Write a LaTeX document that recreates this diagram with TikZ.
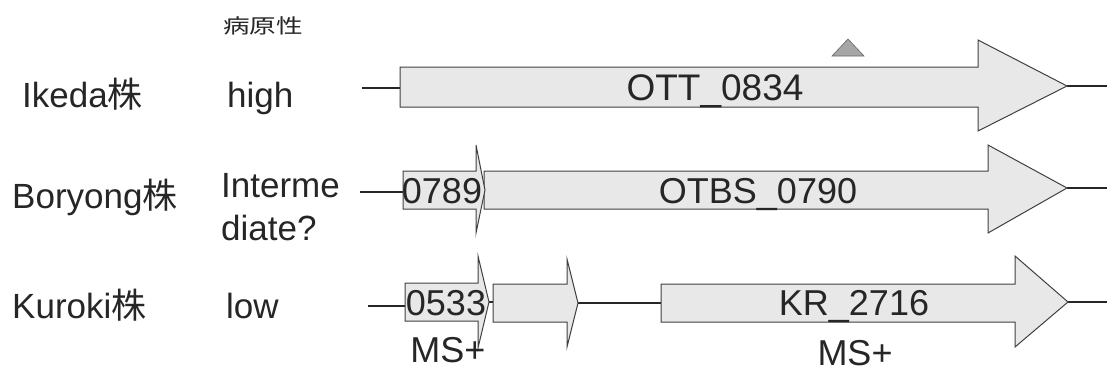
\documentclass[tikz,border=0pt]{standalone}
\usepackage{fontspec}
\setmainfont{Liberation Sans}
\newfontfamily\cjk{Noto Sans CJK JP}
\begin{document}
\begin{tikzpicture}[x=1pt,y=-1pt,
  gene/.style={draw=black!75,fill=black!9,line width=1pt,line join=miter},
  dna/.style={draw=black!85,line width=2.8pt},
  lbl/.style={inner sep=0pt,anchor=base,font=\fontsize{36}{40}\selectfont,text=black!85},
  lft/.style={inner sep=0pt,anchor=base west,font=\fontsize{35}{40}\selectfont,text=black!85}]
\useasboundingbox (0,0) rectangle (1107,372);
% row 1: Ikeda
\coordinate (r1a) at (362,88);
\coordinate (g1s) at (400,88);
\coordinate (g1e) at (1067,86);
\coordinate (r1b) at (1107,86);
\draw[dna] (r1a) -- (g1s);
\draw[dna] (g1e) -- (r1b);
\draw[gene] (400,67) -- (978,67) -- (978,40) -- (g1e) -- (978,131) -- (978,107) -- (400,107) -- cycle;
\draw[draw=black!60,fill=black!35,line width=0.6pt] (832,56) -- (848,39) -- (864,56) -- cycle;
\node[lbl,font=\fontsize{37}{40}\selectfont] (n1) at (715,100) {OTT\_0834};
% row 2: Boryong
\coordinate (r2a) at (360,192);
\coordinate (g2s) at (403,192);
\coordinate (g2e) at (1067,188);
\coordinate (r2b) at (1107,188);
\draw[dna] (r2a) -- (g2s);
\draw[dna] (g2e) -- (r2b);
\draw[gene] (484,171) -- (988,171) -- (988,145) -- (g2e) -- (988,233) -- (988,209) -- (484,209) -- cycle;
\draw[gene] (403,171) -- (476,171) -- (476,145) -- (485,190) -- (476,233) -- (476,209) -- (403,209) -- cycle;
\node[lbl] (n2a) at (442,203) {0789};
\node[lbl] (n2b) at (758,203) {OTBS\_0790};
% row 3: Kuroki
\coordinate (r3a) at (368,306);
\coordinate (g3s) at (405,306);
\coordinate (g3t) at (489,302);
\coordinate (g4s) at (493,302);
\coordinate (g4t) at (578,303);
\coordinate (g5s) at (661,303);
\coordinate (g5t) at (1068,302);
\coordinate (r3b) at (1107,302);
\draw[dna] (r3a) -- (g3s);
\draw[dna] (g3t) -- (g4s);
\draw[dna] (g4t) -- (g5s);
\draw[dna] (g5t) -- (r3b);
\draw[gene] (405,283) -- (478,283) -- (478,256) -- (g3t) -- (478,348) -- (478,321) -- (405,321) -- cycle;
\draw[gene] (493,284) -- (567,284) -- (567,259) -- (g4t) -- (567,347) -- (567,322) -- (493,322) -- cycle;
\draw[gene] (661,284) -- (1015,284) -- (1015,256) -- (g5t) -- (1015,347) -- (1015,322) -- (661,322) -- cycle;
\node[lbl] (n3a) at (446,315) {0533};
\node[lbl] (n3c) at (854,315) {KR\_2716};
\node[lbl] (ms1) at (448,362) {MS+};
\node[lbl] (ms2) at (855,365) {MS+};
% left labels
\node[inner sep=0pt,font=\fontsize{20}{24}\selectfont\cjk,text=black!85] (path) at (263,26) {\scalebox{1.33}[1]{病原性}};
\node[lft] (s1) at (22,107) {Ikeda{\cjk 株}};
\node[lft] (v1) at (227,107) {high};
\node[lft] (s2) at (12,208) {Boryong{\cjk 株}};
\node[lft] (v2a) at (221,197) {Interme};
\node[lft] (v2b) at (221,240) {diate?};
\node[lft] (s3) at (12,318) {Kuroki{\cjk 株}};
\node[lft] (v3) at (226,318) {low};
\end{tikzpicture}
\end{document}
